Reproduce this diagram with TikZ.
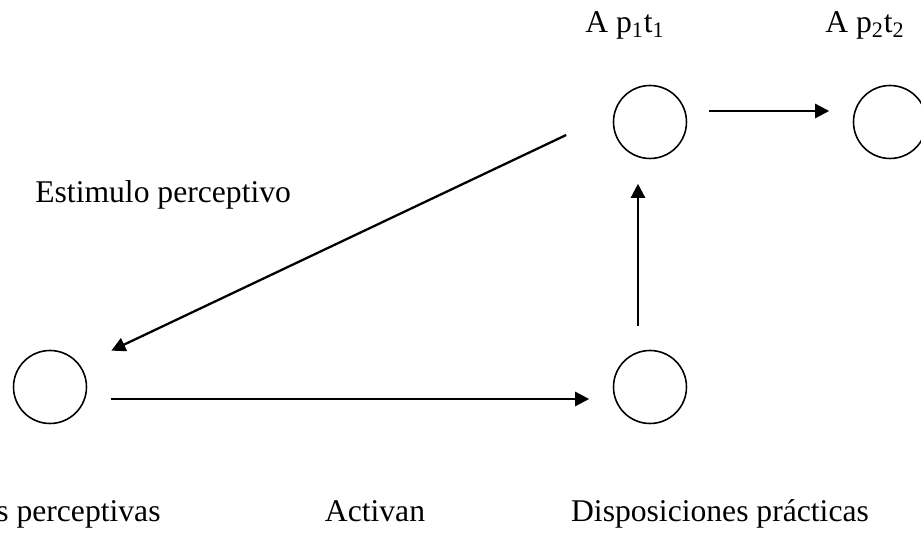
\documentclass[tikz,border=0pt]{standalone}
\usepackage{fontspec}
\setmainfont{Liberation Serif}
\usepackage{tikz}
\usetikzlibrary{arrows.meta, positioning}

\begin{document}
\begin{tikzpicture}[x=0.02cm, y=-0.02cm,
    circ/.style={draw, circle, line width=0.9pt, minimum size=1.46cm, inner sep=0pt},
    arr/.style={line width=1.3pt, -{Triangle[length=8pt, width=8pt]}},
    lbl/.style={font=\fontsize{18}{21}\selectfont, inner sep=0pt, anchor=base}]
  \useasboundingbox (0,0) rectangle (921,540);

  % States
  \node[circ] (perc)  at (50,387) {};
  \node[circ] (prac)  at (650,387) {};
  \node[circ] (apone) at (650,122) {};
  \node[circ] (aptwo) at (890,122) {};

  % Labels
  \node[lbl] (lapone) at (625,33) {A p\textsubscript{1}t\textsubscript{1}};
  \node[lbl] (laptwo) at (865,33) {A p\textsubscript{2}t\textsubscript{2}};
  \node[lbl, anchor=base west] (lstim) at (35,203) {Estimulo perceptivo};
  \node[lbl, anchor=base west] (lperc) at (-4,522) {s perceptivas};
  \node[lbl] (lact)  at (375,522) {Activan};
  \node[lbl] (lprac) at (720,522) {Disposiciones prácticas};

  % Arrows
  \draw[arr] ([shift={(-46.5,13)}]apone.west) -- ([shift={(35,-10)}]perc.north east);
  \draw[arr] ([shift={(23.5,12)}]perc.east) -- ([shift={(-23.5,12)}]prac.west);
  \draw[arr] ([shift={(-12,-23.5)}]prac.north) -- ([shift={(-12,24.5)}]apone.south);
  \draw[arr] ([shift={(21.5,-11)}]apone.east) -- ([shift={(-23.5,-11)}]aptwo.west);
\end{tikzpicture}
\end{document}
